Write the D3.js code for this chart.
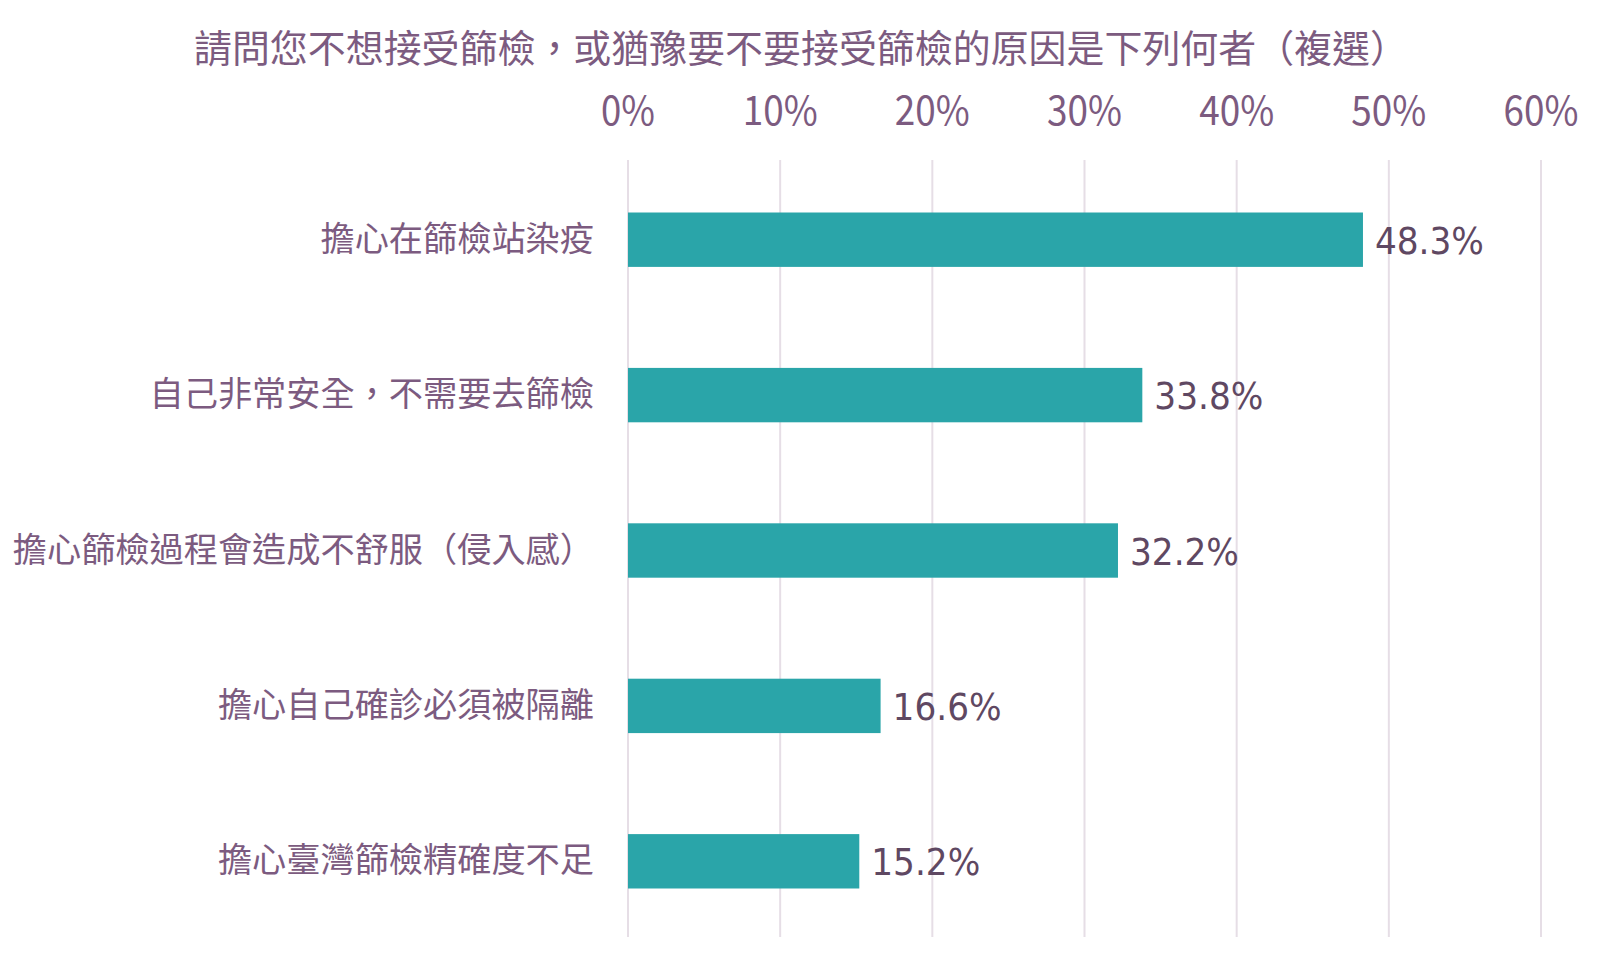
<!DOCTYPE html>
<html>
<head>
<meta charset="utf-8">
<script src="https://cdn.jsdelivr.net/npm/d3@7"></script>
<style>
  body { margin: 0; background: #fff; }
</style>
</head>
<body>
<div id="root"></div>
<script>
const width = 1600
const height = 961

const title = '請問您不想接受篩檢，或猶豫要不要接受篩檢的原因是下列何者（複選）'
const categories = [
  '擔心在篩檢站染疫',
  '自己非常安全，不需要去篩檢',
  '擔心篩檢過程會造成不舒服（侵入感）',
  '擔心自己確診必須被隔離',
  '擔心臺灣篩檢精確度不足',
]
const values = [48.3, 33.8, 32.2, 16.6, 15.2]
const ticks = [0, 10, 20, 30, 40, 50, 60]

const cjk = '"Noto Sans CJK TC", "Noto Sans CJK SC", sans-serif'
const purple = '#7c5b80'

const svg = d3.select('#root').append('svg').attr('width', width).attr('height', height)

const x = d3.scaleLinear().domain([0, 60]).range([628, 1541])
const y = d3.scaleBand().domain(categories).range([162, 939]).paddingInner(0.65).paddingOuter(0.325)

// title
svg.append('text')
  .attr('x', 194)
  .attr('y', 62)
  .attr('font-family', cjk)
  .attr('font-size', 38)
  .attr('fill', purple)
  .attr('textLength', 1214)
  .attr('lengthAdjust', 'spacingAndGlyphs')
  .text(title)

// gridlines
svg.append('g')
  .selectAll('line')
  .data(ticks)
  .join('line')
  .attr('x1', (d) => x(d))
  .attr('x2', (d) => x(d))
  .attr('y1', 160)
  .attr('y2', 937)
  .attr('stroke', '#e6dee6')
  .attr('stroke-width', 2)

// top tick labels
svg.append('g')
  .selectAll('text')
  .data(ticks)
  .join('text')
  .attr('x', (d) => x(d))
  .attr('y', 125)
  .attr('text-anchor', 'middle')
  .attr('font-family', cjk)
  .attr('font-size', 40)
  .attr('fill', purple)
  .attr('textLength', (d) => (d === 0 ? 54 : 75))
  .attr('lengthAdjust', 'spacingAndGlyphs')
  .text((d) => d + '%')

// bars
svg.append('g')
  .selectAll('rect')
  .data(values)
  .join('rect')
  .attr('x', x(0))
  .attr('y', (d, i) => y(categories[i]))
  .attr('width', (d) => x(d) - x(0))
  .attr('height', y.bandwidth())
  .attr('fill', '#2aa5a9')

// value labels
svg.append('g')
  .selectAll('text')
  .data(values)
  .join('text')
  .attr('x', (d) => x(d) + 12)
  .attr('y', (d, i) => y(categories[i]) + y.bandwidth() / 2 + 14)
  .attr('font-family', '"DejaVu Sans", Verdana, sans-serif')
  .attr('font-size', 37)
  .attr('fill', '#5f4862')
  .attr('textLength', 109)
  .attr('lengthAdjust', 'spacingAndGlyphs')
  .text((d) => d.toFixed(1) + '%')

// category labels
svg.append('g')
  .selectAll('text')
  .data(categories)
  .join('text')
  .attr('x', 594)
  .attr('y', (d) => y(d) + y.bandwidth() / 2 + 11)
  .attr('text-anchor', 'end')
  .attr('font-family', cjk)
  .attr('font-size', 34.2)
  .attr('fill', purple)
  .text((d) => d)
</script>
</body>
</html>
